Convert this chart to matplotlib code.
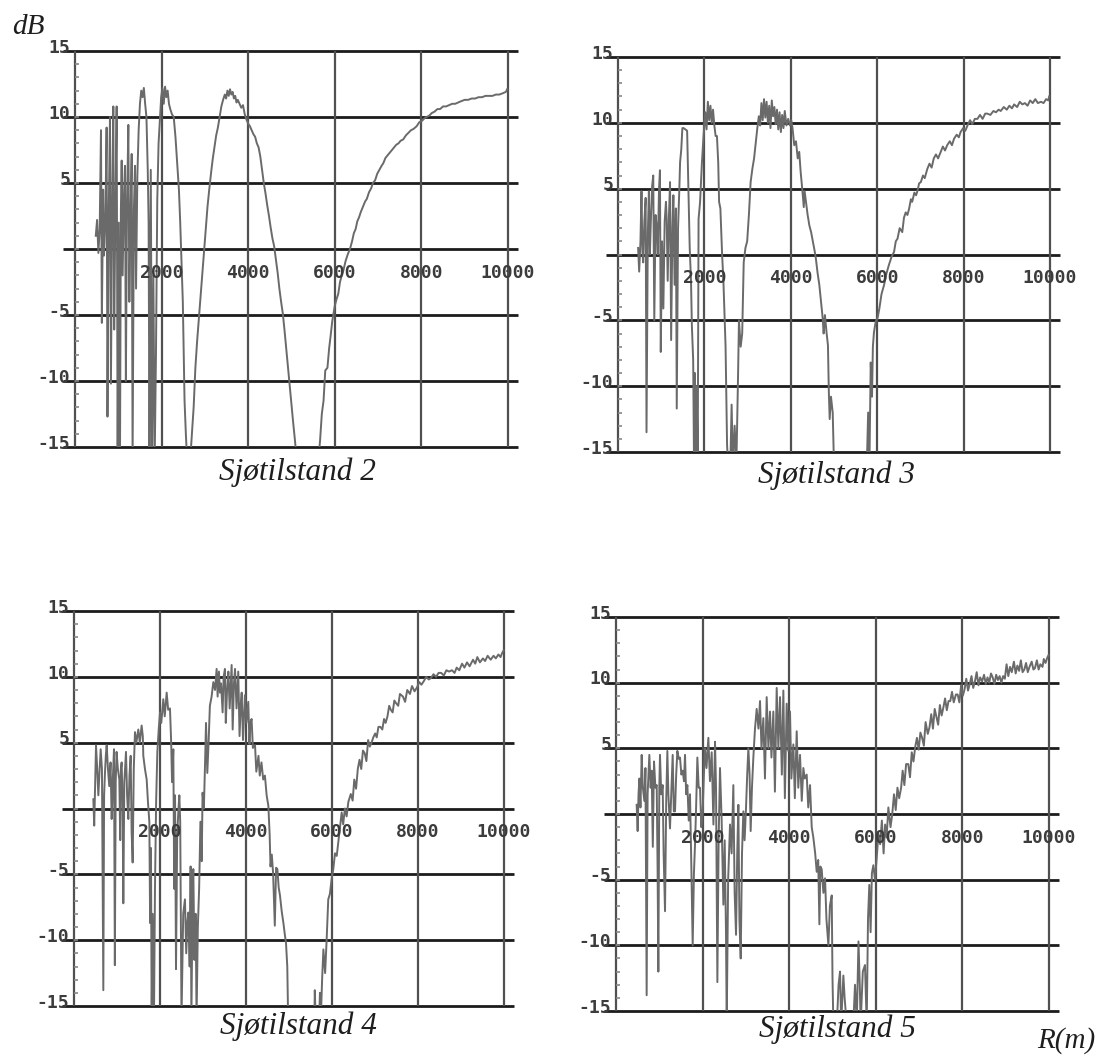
import numpy as np
import matplotlib
matplotlib.use('Agg')
import matplotlib.pyplot as plt

# range (m) and level (dB), values below -15 are off scale
r_s2 = [480, 510, 540, 570, 600, 620, 650, 670, 700, 730,
        750, 780, 808, 830, 860, 885, 905, 935, 962, 985,
        1010, 1039, 1060, 1078, 1100, 1130, 1155, 1175, 1200, 1232,
        1255, 1280, 1309, 1330, 1360, 1386, 1410, 1440, 1470, 1500,
        1530, 1560, 1590, 1620, 1650, 1680, 1700, 1720, 1750, 1780,
        1810, 1840, 1870, 1900, 1930, 1963, 1990, 2020, 2050, 2080,
        2110, 2140, 2170, 2200, 2240, 2280, 2320, 2360, 2400, 2430,
        2460, 2490, 2510, 2530, 2560, 2590, 2660, 2700, 2740, 2780,
        2820, 2860, 2900, 2940, 2980, 3020, 3060, 3100, 3140, 3180,
        3220, 3260, 3300, 3340, 3380, 3420, 3460, 3490, 3520, 3550,
        3580, 3610, 3640, 3670, 3700, 3730, 3760, 3800, 3840, 3880,
        3920, 3960, 4000, 4040, 4080, 4120, 4160, 4200, 4240, 4280,
        4320, 4360, 4400, 4440, 4480, 4520, 4560, 4600, 4640, 4680,
        4720, 4760, 4800, 4840, 4880, 4920, 4960, 5000, 5040, 5080,
        5120, 5620, 5660, 5700, 5740, 5780, 5830, 5870, 5903, 5940,
        5965, 6000, 6040, 6080, 6120, 6160, 6200, 6250, 6300, 6350,
        6400, 6440, 6480, 6520, 6560, 6600, 6650, 6700, 6740, 6790,
        6840, 6880, 6930, 6980, 7030, 7080, 7120, 7170, 7220, 7270,
        7320, 7370, 7420, 7470, 7520, 7580, 7640, 7700, 7760, 7820,
        7890, 7950, 8010, 8070, 8120, 8180, 8240, 8300, 8370, 8430,
        8500, 8570, 8640, 8710, 8780, 8850, 8920, 9000, 9080, 9160,
        9240, 9320, 9400, 9480, 9560, 9640, 9720, 9800, 9880, 9950, 9980]
db_s2 = [1.0, 2.2, -0.3, 1.5, 9.0, -5.6, 4.5, -0.5, 2.0, 9.2,
         -12.7, 3.0, 10.0, -10.2, 4.0, 10.8, -6.1, 3.5, 10.8, -16,
         2.0, -16, 3.0, 6.7, -2.0, 4.0, 6.3, -10.0, 3.0, 9.4,
         -4.0, 2.0, 7.2, -16, 3.0, 6.3, -3.0, 5.5, 9.0, 11.0,
         12.0, 11.5, 12.2, 11.0, 10.0, 6.0, 2.0, -16, 6.0, -16,
         -2.0, -16, -8.0, 3.7, 8.0, 10.0, 11.5, 12.2, 11.0, 12.3,
         11.5, 12.0, 11.0, 10.6, 10.2, 10.0, 8.5, 6.5, 4.5, 2.0,
         -1.0, -4.0, -8.0, -11.5, -14.0, -16, -16, -14.0, -12.0, -9.0,
         -7.0, -5.3, -3.5, -1.8, -0.3, 1.5, 3.2, 4.5, 5.7, 6.8,
         7.7, 8.6, 9.2, 10.0, 10.8, 11.3, 11.7, 11.4, 12.0, 11.6,
         12.1, 11.7, 11.9, 11.4, 11.6, 11.1, 11.3, 11.0, 10.7, 10.9,
         10.2, 9.8, 9.5, 9.3, 9.0, 8.7, 8.5, 8.0, 7.7, 7.0,
         6.0, 5.0, 4.2, 3.3, 2.5, 1.6, 0.8, 0.2, -0.8, -1.8,
         -3.0, -4.0, -4.9, -6.2, -7.6, -9.0, -10.4, -11.8, -13.2, -14.5,
         -16, -16, -14.5, -12.5, -11.5, -9.2, -9.0, -7.5, -6.6, -5.5,
         -5.0, -4.3, -3.8, -3.4, -2.5, -2.0, -1.6, -0.9, -0.4, 0.0,
         0.6, 1.2, 1.5, 2.1, 2.4, 2.8, 3.2, 3.6, 3.8, 4.3,
         4.6, 5.0, 5.2, 5.7, 6.0, 6.3, 6.5, 6.9, 7.1, 7.3,
         7.5, 7.7, 7.9, 8.0, 8.2, 8.3, 8.6, 8.8, 9.0, 9.1,
         9.3, 9.6, 9.7, 9.9, 10.0, 10.1, 10.3, 10.4, 10.6, 10.6,
         10.8, 10.8, 10.9, 11.0, 11.0, 11.1, 11.2, 11.3, 11.3, 11.4,
         11.4, 11.5, 11.5, 11.6, 11.6, 11.6, 11.7, 11.7, 11.8, 11.9, 12.1]

r_s3 = [466, 490, 520, 544, 565, 583, 610, 640, 660, 690,
        715, 738, 760, 790, 816, 840, 870, 893, 920, 950,
        971, 990, 1020, 1050, 1080, 1110, 1127, 1150, 1180, 1205,
        1230, 1260, 1282, 1310, 1340, 1360, 1390, 1420, 1437, 1465,
        1490, 1520, 1560, 1600, 1630, 1660, 1690, 1710, 1740, 1760,
        1780, 1800, 1820, 1845, 1865, 1900, 1943, 1980, 2020, 2050,
        2080, 2110, 2140, 2170, 2200, 2230, 2260, 2290, 2320, 2340,
        2370, 2410, 2440, 2470, 2490, 2510, 2525, 2550, 2600, 2630,
        2660, 2700, 2740, 2780, 2800, 2840, 2875, 2910, 2950, 2990,
        3030, 3070, 3110, 3150, 3190, 3225, 3260, 3290, 3320, 3350,
        3380, 3410, 3440, 3470, 3500, 3530, 3560, 3590, 3620, 3650,
        3680, 3710, 3740, 3770, 3800, 3830, 3860, 3900, 3940, 3980,
        4010, 4040, 4080, 4120, 4160, 4195, 4230, 4270, 4300, 4320,
        4350, 4390, 4430, 4470, 4510, 4550, 4580, 4620, 4660, 4700,
        4740, 4760, 4790, 4830, 4860, 4880, 4900, 4930, 4970, 5000,
        5760, 5790, 5820, 5850, 5880, 5900, 5925, 5965, 6010, 6050,
        6100, 6160, 6210, 6270, 6330, 6390, 6430, 6470, 6520, 6580,
        6620, 6660, 6700, 6740, 6780, 6810, 6860, 6900, 6930, 6970,
        7010, 7060, 7100, 7160, 7210, 7260, 7310, 7360, 7410, 7470,
        7520, 7570, 7620, 7680, 7730, 7780, 7840, 7890, 7930, 7990,
        8040, 8090, 8150, 8200, 8260, 8320, 8380, 8440, 8500, 8550,
        8620, 8690, 8750, 8810, 8860, 8930, 9000, 9060, 9120, 9170,
        9240, 9300, 9360, 9420, 9480, 9540, 9600, 9660, 9720, 9790,
        9850, 9910, 9960, 9980]
db_s3 = [0.5, -1.3, 1.0, 4.8, 0.2, -0.6, 2.5, 4.3, -13.5, 1.5,
         4.8, 0.0, 2.5, 5.2, 6.0, -5.0, 3.0, 2.2, 0.0, 5.0,
         6.4, -7.4, 1.0, -4.1, 2.5, 4.0, 2.7, -2.0, 3.0, 5.5,
         -6.5, 2.0, 4.5, -2.3, 3.5, -11.7, 2.0, 5.0, 7.0, 8.0,
         9.6, 9.6, 9.5, 9.4, 5.0, 0.5, -2.0, -5.4, -8.0, -16,
         -9.0, -16, -10.0, -16, 2.7, 4.0, 7.0, 9.0, 10.8, 9.5,
         11.6, 10.2, 11.3, 10.0, 11.0, 9.8, 9.0, 9.0, 7.0, 4.0,
         3.5, 0.0, -2.0, -5.0, -7.0, -11.0, -14.5, -16, -16, -11.4,
         -16, -13.0, -16, -9.0, -5.0, -7.0, -6.0, -0.6, 0.5, 1.0,
         3.0, 5.5, 6.5, 7.3, 8.5, 9.6, 10.5, 9.8, 11.5, 10.2,
         11.8, 10.4, 11.6, 10.0, 11.3, 9.6, 11.7, 10.5, 11.2, 9.9,
         11.0, 9.5, 10.8, 9.3, 10.6, 9.6, 10.9, 9.8, 10.3, 9.8,
         10.2, 9.6, 8.3, 8.6, 7.3, 7.8, 6.2, 4.8, 3.6, 4.8,
         4.0, 3.0, 2.2, 1.7, 1.0, 0.3, -0.3, -1.4, -2.3, -3.6,
         -4.9, -6.0, -4.6, -6.0, -6.9, -10.4, -12.5, -10.8, -12.0, -16,
         -16, -12.0, -16, -8.2, -10.8, -7.0, -5.9, -5.1, -4.8, -4.1,
         -3.0, -2.3, -1.5, -0.8, -0.2, 0.2, 1.0, 1.2, 2.0, 1.7,
         2.8, 3.2, 3.0, 3.5, 4.2, 4.0, 4.7, 4.5, 4.8, 5.4,
         5.5, 6.0, 5.8, 6.5, 6.9, 6.6, 7.3, 7.6, 7.3, 7.8,
         8.2, 7.9, 8.3, 8.6, 8.3, 8.8, 9.1, 8.9, 9.3, 9.6,
         9.4, 9.8, 10.2, 9.9, 10.3, 10.3, 10.6, 10.3, 10.7, 10.7,
         10.6, 10.9, 10.8, 11.0, 10.9, 11.2, 11.0, 11.3, 11.1, 11.4,
         11.2, 11.6, 11.4, 11.5, 11.3, 11.7, 11.5, 11.8, 11.5, 11.6,
         11.5, 11.8, 11.7, 12.0]

r_s4 = [450, 470, 490, 512, 540, 566, 590, 620, 650, 682,
        700, 720, 740, 760, 790, 820, 850, 876, 900, 930,
        950, 970, 990, 1020, 1054, 1075, 1090, 1108, 1130, 1147,
        1170, 1209, 1235, 1263, 1290, 1318, 1340, 1364, 1390, 1418,
        1450, 1496, 1530, 1573, 1600, 1612, 1650, 1690, 1720, 1752,
        1770, 1790, 1806, 1830, 1860, 1883, 1910, 1938, 1970, 2000,
        2030, 2077, 2110, 2155, 2190, 2232, 2260, 2280, 2310, 2330,
        2350, 2372, 2400, 2430, 2450, 2470, 2500, 2540, 2580, 2610,
        2640, 2660, 2690, 2712, 2730, 2760, 2775, 2800, 2830, 2850,
        2880, 2910, 2940, 2970, 2990, 3020, 3046, 3070, 3100, 3130,
        3160, 3200, 3240, 3280, 3317, 3340, 3370, 3395, 3420, 3456,
        3480, 3510, 3530, 3560, 3590, 3620, 3666, 3690, 3720, 3745,
        3780, 3820, 3850, 3880, 3900, 3930, 3975, 4010, 4053, 4080,
        4100, 4130, 4160, 4210, 4240, 4290, 4320, 4360, 4400, 4440,
        4480, 4520, 4550, 4570, 4600, 4630, 4670, 4700, 4730, 4760,
        4790, 4830, 4870, 4900, 4930, 4960, 4980, 5590, 5600, 5620,
        5700, 5720, 5740, 5770, 5800, 5840, 5875, 5913, 5950, 5990,
        6030, 6070, 6110, 6146, 6180, 6225, 6260, 6300, 6340, 6380,
        6437, 6480, 6518, 6560, 6600, 6640, 6680, 6720, 6760, 6800,
        6840, 6880, 6920, 6960, 7004, 7040, 7080, 7125, 7170, 7210,
        7247, 7290, 7330, 7367, 7410, 7450, 7490, 7540, 7580, 7650,
        7700, 7750, 7813, 7860, 7920, 7977, 8030, 8080, 8140, 8190,
        8250, 8300, 8360, 8420, 8480, 8540, 8600, 8660, 8720, 8790,
        8850, 8900, 8960, 9025, 9080, 9140, 9200, 9280, 9330, 9380,
        9440, 9510, 9560, 9620, 9690, 9757, 9810, 9870, 9920, 9955, 9990]
db_s4 = [0.7, -1.3, 1.5, 4.8, 3.0, 1.0, 2.5, 4.5, 3.0, -13.8,
         1.0, 2.7, 4.0, 4.8, 3.0, 1.7, 3.5, -0.8, 2.0, 4.5,
         -11.9, 2.0, 4.3, 3.0, 2.2, -2.4, 3.0, 3.5, 0.5, -7.2,
         2.0, 4.3, 1.0, -0.8, 2.5, 4.0, -1.8, -4.1, 3.0, 5.8,
         5.0, 6.0, 5.0, 6.3, 5.5, 4.0, 3.0, 2.2, 0.5, -1.0,
         -8.7, -3.0, -16, -8.0, -16, -6.1, 0.5, 4.3, 6.0, 7.3,
         6.5, 8.3, 7.0, 8.8, 7.5, 7.6, 5.0, 2.0, 4.5, -6.1,
         1.0, -12.2, -2.0, 0.0, 1.0, -1.0, -16, -8.0, -6.9, -11.0,
         -8.5, -7.9, -12.0, -4.4, -16, -6.0, -4.6, -11.5, -8.0, -16,
         -9.0, -6.1, -1.0, -4.0, 1.2, 0.0, 3.2, 6.5, 2.7, 5.0,
         7.8, 8.5, 9.6, 9.0, 10.6, 8.5, 10.4, 8.8, 9.5, 7.3,
         10.0, 10.6, 6.5, 9.0, 10.4, 7.6, 10.9, 6.0, 9.5, 10.6,
         7.6, 10.4, 5.5, 8.0, 8.8, 5.2, 8.6, 6.5, 8.1, 4.9,
         6.5, 6.8, 4.6, 4.8, 2.8, 4.0, 2.5, 3.5, 2.2, 2.5,
         1.0, 0.2, -2.0, -4.4, -3.5, -4.9, -8.9, -4.5, -4.6, -6.0,
         -6.6, -7.8, -8.7, -9.5, -10.2, -12.0, -16, -16, -13.8, -16,
         -16, -14.0, -16, -13.0, -10.7, -12.5, -10.0, -6.9, -6.5, -5.4,
         -4.6, -3.4, -3.6, -2.6, -1.6, -0.3, -1.2, 0.0, -0.6, 0.5,
         1.1, 0.6, 2.2, 1.5, 3.0, 3.7, 3.0, 4.4, 4.2, 3.6,
         5.2, 4.7, 5.0, 5.4, 5.7, 5.4, 6.2, 6.2, 6.0, 6.8,
         6.5, 7.0, 7.8, 7.5, 7.3, 8.2, 8.0, 7.8, 8.7, 8.5,
         8.1, 9.0, 8.7, 9.3, 8.9, 9.2, 9.6, 9.4, 9.7, 10.0,
         9.8, 9.9, 10.2, 10.0, 10.3, 10.3, 10.1, 10.5, 10.4, 10.5,
         10.3, 10.7, 10.5, 11.0, 10.7, 11.1, 10.8, 11.3, 11.0, 11.5,
         11.1, 11.4, 11.2, 11.6, 11.3, 11.6, 11.4, 11.7, 11.5, 11.8, 12.0]

r_s5 = [477, 500, 520, 540, 565, 593, 620, 655, 680, 708,
        730, 750, 770, 800, 824, 850, 878, 910, 940, 960,
        978, 1000, 1016, 1045, 1078, 1100, 1132, 1160, 1186, 1210,
        1247, 1280, 1309, 1335, 1363, 1390, 1417, 1450, 1478, 1510,
        1540, 1570, 1594, 1620, 1648, 1680, 1709, 1740, 1771, 1800,
        1825, 1850, 1879, 1910, 1940, 1970, 2002, 2030, 2056, 2090,
        2133, 2170, 2210, 2250, 2287, 2310, 2341, 2370, 2402, 2440,
        2480, 2510, 2540, 2557, 2590, 2633, 2670, 2710, 2740, 2772,
        2800, 2826, 2850, 2880, 2910, 2941, 2970, 3003, 3030, 3057,
        3085, 3110, 3140, 3172, 3210, 3249, 3290, 3326, 3360, 3403,
        3440, 3480, 3520, 3557, 3590, 3634, 3670, 3711, 3750, 3788,
        3830, 3865, 3900, 3942, 3980, 4019, 4050, 4096, 4130, 4173,
        4210, 4250, 4290, 4327, 4360, 4404, 4440, 4481, 4520, 4558,
        4600, 4635, 4670, 4697, 4720, 4750, 4790, 4828, 4860, 4905,
        4940, 4982, 5000, 5020, 5100, 5140, 5174, 5200, 5251, 5280,
        5328, 5480, 5520, 5560, 5600, 5630, 5650, 5700, 5750, 5790,
        5820, 5850, 5880, 5910, 5944, 5980, 6020, 6060, 6100, 6140,
        6180, 6215, 6250, 6290, 6340, 6380, 6420, 6460, 6500, 6540,
        6585, 6620, 6660, 6700, 6750, 6790, 6830, 6870, 6910, 6950,
        6990, 7030, 7070, 7110, 7150, 7200, 7240, 7280, 7320, 7360,
        7400, 7440, 7480, 7520, 7560, 7600, 7640, 7680, 7720, 7760,
        7800, 7850, 7890, 7930, 7970, 8010, 8050, 8090, 8130, 8170,
        8210, 8250, 8290, 8330, 8370, 8410, 8455, 8500, 8540, 8580,
        8620, 8660, 8700, 8740, 8780, 8820, 8860, 8900, 8940, 8980,
        9020, 9060, 9100, 9140, 9190, 9230, 9270, 9310, 9350, 9390,
        9430, 9470, 9510, 9550, 9600, 9640, 9675, 9720, 9760, 9800,
        9850, 9880, 9920, 9960, 9990]
db_s5 = [0.7, -1.3, 1.5, 2.7, 0.5, 4.5, 2.0, 1.0, 3.5, -13.8,
         1.5, 3.0, 4.5, 2.0, 3.3, -2.5, 4.0, 2.0, 2.2, -4.0,
         -12.0, 2.0, 4.5, 1.5, 2.2, -3.0, -7.4, 1.0, 4.8, 1.5,
         -1.1, 2.0, 4.5, 0.2, 0.2, 3.0, 4.8, 4.2, 4.3, 3.0,
         3.3, 2.5, 4.5, 1.5, 2.2, -0.5, 1.5, -4.0, -10.0, -4.5,
         -2.3, 0.5, 4.3, 2.0, 2.0, -1.0, 0.2, 3.0, 5.0, 3.5,
         5.8, 2.5, 4.7, -0.8, 5.5, 2.0, -12.8, -2.0, 3.5, -0.5,
         -6.9, -2.0, -9.0, -16, -5.0, -0.8, -3.0, 2.2, -6.0, -9.2,
         -3.0, 0.7, -8.0, -11.0, -3.0, 0.2, -2.0, 0.5, 3.0, 5.0,
         3.0, -1.3, 2.0, 4.3, 6.5, 8.0, 6.5, 8.6, 5.0, 7.3,
         2.7, 8.9, 5.0, 7.8, 4.3, 7.8, 1.7, 9.6, 5.0, 8.9,
         3.0, 9.4, 1.2, 8.4, 4.8, 7.8, 2.7, 5.3, 1.2, 6.3,
         2.0, 4.5, 1.0, 3.5, 2.7, 3.0, 0.5, 2.2, -1.0, -1.8,
         -3.0, -4.4, -3.5, -8.4, -4.0, -4.2, -6.0, -4.9, -8.0, -10.0,
         -7.0, -6.2, -12.5, -16, -16, -13.0, -12.0, -16, -12.3, -14.0,
         -16, -16, -13.0, -16, -9.7, -13.0, -16, -12.0, -11.5, -16,
         -8.0, -5.4, -9.0, -4.5, -3.9, -5.0, -3.4, -1.5, -2.3, -0.5,
         -3.0, -0.8, -1.8, 0.5, -1.0, 0.0, 1.5, 0.3, 2.0, 1.2,
         2.0, 3.3, 2.2, 3.8, 3.8, 2.8, 4.7, 4.0, 5.1, 5.8,
         4.9, 6.2, 5.8, 5.2, 7.0, 6.1, 6.6, 7.6, 6.5, 8.0,
         7.4, 6.8, 8.3, 7.5, 8.1, 8.8, 7.9, 8.6, 8.6, 9.3,
         8.5, 9.1, 9.1, 8.5, 9.8, 9.0, 9.5, 10.3, 9.4, 9.9,
         10.5, 9.6, 10.1, 10.8, 9.8, 10.4, 10.1, 10.6, 9.9, 10.4,
         10.0, 10.7, 10.4, 9.9, 10.6, 10.2, 10.5, 10.0, 10.5, 10.3,
         11.4, 10.5, 11.2, 10.8, 11.6, 10.7, 11.3, 10.9, 11.7, 10.8,
         11.0, 11.5, 10.8, 11.2, 11.6, 11.0, 11.1, 11.7, 11.0, 11.4,
         11.2, 11.8, 11.5, 11.9, 12.1]

titles = ['Sjøtilstand 2', 'Sjøtilstand 3', 'Sjøtilstand 4', 'Sjøtilstand 5']
x_labels = [2000, 4000, 6000, 8000, 10000]
y_labels = [15, 10, 5, -5, -10, -15]
grid_x = [0, 2000, 4000, 6000, 8000, 10000]
grid_y = [-15, -10, -5, 0, 5, 10, 15]

W, H = 1098, 1057
fig = plt.figure(figsize=(W / 100, H / 100), dpi=100)
fig.patch.set_facecolor('white')

# where each panel sits in the scan: x of 0 m, x of 10000 m, y of +15 dB, y of -15 dB
frames = [(75, 508, 51, 447), (618, 1050, 57, 452),
          (74, 504, 611, 1006), (616, 1049, 617, 1011)]
title_pos = [(297, 472), (836, 475), (298, 1026), (837, 1029)]
XMIN, XMAX = -300, 10250

mono = 'DejaVu Sans Mono'
serif = 'Liberation Serif'


def make_axes(frame):
    x0, x1, yt, yb = frame
    ppm = (x1 - x0) / 10000.0
    left = x0 + XMIN * ppm
    right = x0 + XMAX * ppm
    ax = fig.add_axes([left / W, 1 - yb / H, (right - left) / W, (yb - yt) / H])
    ax.set_xlim(XMIN, XMAX)
    ax.set_ylim(-15, 15)
    ax.axis('off')
    return ax


def draw_panel(ax, r, db):
    ax.hlines(grid_y, -280, 10230, color='#1c1c1c', lw=2.0, clip_on=False, zorder=2)
    ax.vlines(grid_x, -15, 15, color='#505050', lw=1.6, clip_on=False, zorder=2)
    # little dot ticks along the left edge, one per dB
    ax.plot(np.full(29, 55), np.arange(-14, 15), ls='none', marker='_',
            ms=3, mew=1.2, color='#888888', zorder=2)
    ax.plot(r, db, color='#6a6a6a', lw=1.4, zorder=3)
    for t in x_labels:
        ax.text(t, -1.8, str(t), ha='center', va='center', family=mono,
                fontsize=13, color='#3c3c3c', fontweight='bold', zorder=4)
    for v in y_labels:
        ax.text(-110, v + 0.25, str(v), ha='right', va='center', family=mono,
                fontsize=13, color='#3c3c3c', fontweight='bold', zorder=4)


series = [(r_s2, db_s2), (r_s3, db_s3), (r_s4, db_s4), (r_s5, db_s5)]
for i in range(4):
    ax = make_axes(frames[i])
    draw_panel(ax, *series[i])
    tx, ty = title_pos[i]
    fig.text(tx / W, 1 - ty / H, titles[i], ha='center', va='center',
             family=serif, style='italic', fontsize=22.5, color='#1e1e1e')

fig.text(28 / W, 1 - 27 / H, 'dB', ha='center', va='center', family=serif,
         style='italic', fontsize=21, color='#1e1e1e')
fig.text(1066 / W, 1 - 1041 / H, 'R(m)', ha='center', va='center', family=serif,
         style='italic', fontsize=21, color='#1e1e1e')

fig.savefig('out.png', dpi=100, facecolor='white')
